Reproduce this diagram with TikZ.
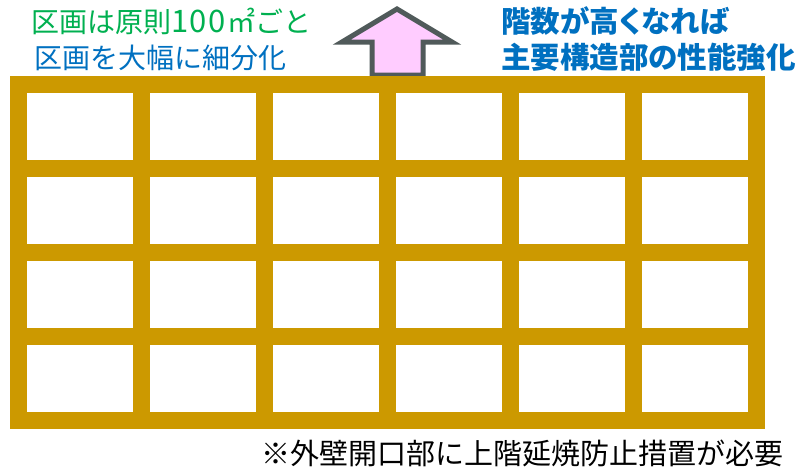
\documentclass[tikz,border=0pt]{standalone}
\usepackage{fontspec}
\newfontfamily\jp{Noto Sans CJK JP}
\newfontfamily\jpp{Noto Sans CJK JP}[RawFeature=+palt]
\definecolor{gold}{RGB}{204,153,0}
\definecolor{grn}{RGB}{0,176,80}
\definecolor{blu}{RGB}{0,112,192}
\definecolor{pinkfill}{RGB}{255,204,255}
\definecolor{arrowedge}{RGB}{80,90,90}
\begin{document}
\begin{tikzpicture}[x=1pt,y=-1pt,
  txt/.style={inner sep=0pt, anchor=west, font=\jp\fontsize{28}{30}\selectfont},
  boldtxt/.style={txt, font=\jpp\bfseries\fontsize{29.5}{31}\selectfont},
  notetxt/.style={txt, font=\jp\fontsize{29}{31}\selectfont}]
\useasboundingbox (0,0) rectangle (796,472);
% arrow
\draw[line width=5pt, draw=arrowedge, fill=pinkfill, line join=miter]
  (397,9) -- (452,42) -- (423,42) -- (423,75) -- (372,75) -- (372,42) -- (342,42) -- cycle;
% grid
\fill[gold] (10,76) rectangle (765,429);
\foreach \i in {0,...,5}
  \foreach \j in {0,...,3}
    \fill[white] ({27+123*\i},{93+84*\j}) rectangle ({133+123*\i},{160+84*\j});
% texts
\node[txt, text=grn] (t1) at (31,21) {区画は原則{\fontsize{31}{31}\selectfont 1\kern1.5pt 0\kern1.5pt 0\kern2pt}㎡ごと};
\node[txt, text=blu] (t2) at (34,58) {区画を大幅に細分化};
\node[boldtxt, text=blu] (t3) at (501,21) {階数が高くなれば};
\node[boldtxt, text=blu] (t4) at (501,57) {主要構造部の性能強化};
\node[notetxt, text=black] (t5) at (261,453) {※外壁開口部に上階延焼防止措置が必要};
\end{tikzpicture}
\end{document}
